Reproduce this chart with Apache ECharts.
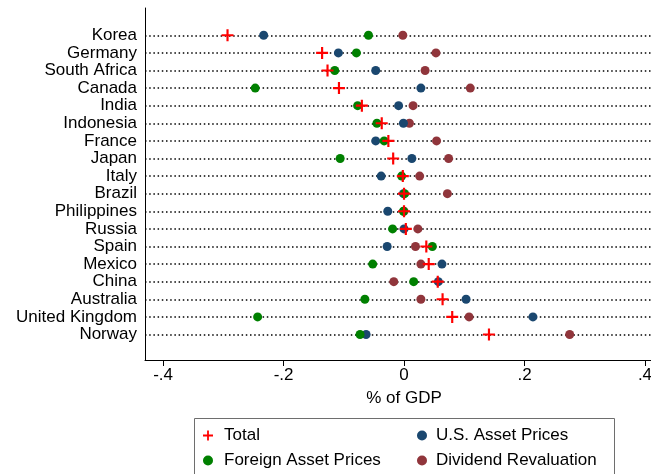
<!DOCTYPE html>
<html>
<head>
<meta charset="utf-8">
<script src="https://cdn.jsdelivr.net/npm/echarts@6/dist/echarts.min.js"></script>
<style>
  html, body { margin: 0; padding: 0; background: #fff; }
  #chart { width: 651px; height: 474px; }
</style>
</head>
<body>
<div id="chart"></div>
<script>
// Decomposition of valuation changes by country (% of GDP)
const countries = ['Korea', 'Germany', 'South Africa', 'Canada', 'India', 'Indonesia', 'France', 'Japan', 'Italy',
  'Brazil', 'Philippines', 'Russia', 'Spain', 'Mexico', 'China', 'Australia', 'United Kingdom', 'Norway'];
const total = [-0.293, -0.136, -0.127, -0.108, -0.070, -0.037, -0.026, -0.018, -0.002,
  0.000, 0.000, 0.003, 0.037, 0.041, 0.056, 0.064, 0.080, 0.141];
const usAssetPrices = [-0.233, -0.109, -0.047, 0.028, -0.009, -0.001, -0.047, 0.013, -0.038,
  -0.001, -0.027, 0.000, -0.028, 0.063, 0.057, 0.103, 0.214, -0.063];
const foreignAssetPrices = [-0.059, -0.079, -0.115, -0.247, -0.077, -0.045, -0.033, -0.106, -0.004,
  0.001, -0.001, -0.019, 0.047, -0.052, 0.016, -0.065, -0.243, -0.073];
const dividendRevaluation = [-0.002, 0.053, 0.035, 0.110, 0.015, 0.009, 0.054, 0.074, 0.026,
  0.072, 0.000, 0.023, 0.019, 0.028, -0.017, 0.028, 0.108, 0.275];
const xTicks = [-0.4, -0.2, 0, 0.2, 0.4];

const FONT = "'Liberation Sans', Arial, sans-serif";
const FS = 17;
const PLUS = 'path://M4.1,0H5.9V4.1H10V5.9H5.9V10H4.1V5.9H0V4.1H4.1Z';
const rowIdx = countries.map((_, i) => i);
const pairs = vals => vals.map((v, i) => [v, i]);

const chart = echarts.init(document.getElementById('chart'), null, { renderer: 'canvas' });

function tickLabel(v) {
  if (Math.abs(v) < 1e-9) return '0';
  const s = String(Math.round(v * 10) / 10);
  return s.replace('0.', '.');
}

const dotSeries = (name, vals, color, z) => ({
  name, type: 'scatter', data: pairs(vals), symbol: 'circle', symbolSize: 9,
  itemStyle: { color, opacity: 1 }, z, silent: true
});

const legendText = pad => ({ fontFamily: FONT, fontSize: FS, lineHeight: FS, color: '#000', padding: [0, 0, 0, pad] });

chart.setOption({
  animation: false,
  backgroundColor: '#fff',
  textStyle: { fontFamily: FONT },
  grid: { left: 145, right: 0, top: 8, bottom: 114, containLabel: false, outerBoundsMode: 'none' },
  xAxis: {
    type: 'value', min: -0.43, max: 0.41,
    name: '% of GDP', nameLocation: 'middle', nameGap: 30,
    nameTextStyle: { fontFamily: FONT, fontSize: FS, color: '#000', padding: [0, 0, 0, 12] },
    axisLine: { show: true, onZero: false, lineStyle: { color: '#000', width: 1 } },
    axisTick: { show: true, length: 6, customValues: xTicks, lineStyle: { color: '#000', width: 1 } },
    axisLabel: { customValues: xTicks, formatter: tickLabel, margin: 7, fontFamily: FONT, fontSize: FS, color: '#000' },
    splitLine: { show: false }
  },
  yAxis: {
    type: 'value', inverse: true, min: -1.55, max: 18.45,
    axisLine: { show: true, onZero: false, lineStyle: { color: '#000', width: 1 } },
    axisTick: { show: false, customValues: rowIdx },
    axisLabel: { customValues: rowIdx, formatter: v => countries[v] || '', margin: 8,
      fontFamily: FONT, fontSize: FS, color: '#000' },
    splitLine: { show: true, lineStyle: { color: '#000', width: 1.5, type: [1.5, 2.7] } }
  },
  legend: [
    {
      data: [{ name: 'Total', icon: PLUS }, { name: 'Foreign Asset Prices', icon: 'circle' }],
      orient: 'vertical', left: 203, top: 427, padding: 0, itemWidth: 10, itemHeight: 10, itemGap: 8,
      textStyle: legendText(6), selectedMode: false
    },
    {
      data: [{ name: 'U.S. Asset Prices', icon: 'circle' }, { name: 'Dividend Revaluation', icon: 'circle' }],
      orient: 'vertical', left: 417, top: 427, padding: 0, itemWidth: 10, itemHeight: 10, itemGap: 8,
      textStyle: legendText(4), selectedMode: false
    }
  ],
  graphic: [{
    type: 'rect', left: 194, top: 418, z: -1,
    shape: { width: 420, height: 70 },
    style: { fill: '#fff', stroke: '#6e6e6e', lineWidth: 1 }
  }],
  series: [
    dotSeries('Dividend Revaluation', dividendRevaluation, '#90353b', 2),
    dotSeries('U.S. Asset Prices', usAssetPrices, '#1a476f', 3),
    dotSeries('Foreign Asset Prices', foreignAssetPrices, '#008000', 4),
    {
      name: 'Total', type: 'scatter', data: pairs(total), symbol: PLUS, symbolSize: 12,
      itemStyle: { color: '#ff0000', opacity: 1 }, z: 5, silent: true
    }
  ]
});
</script>
</body>
</html>
